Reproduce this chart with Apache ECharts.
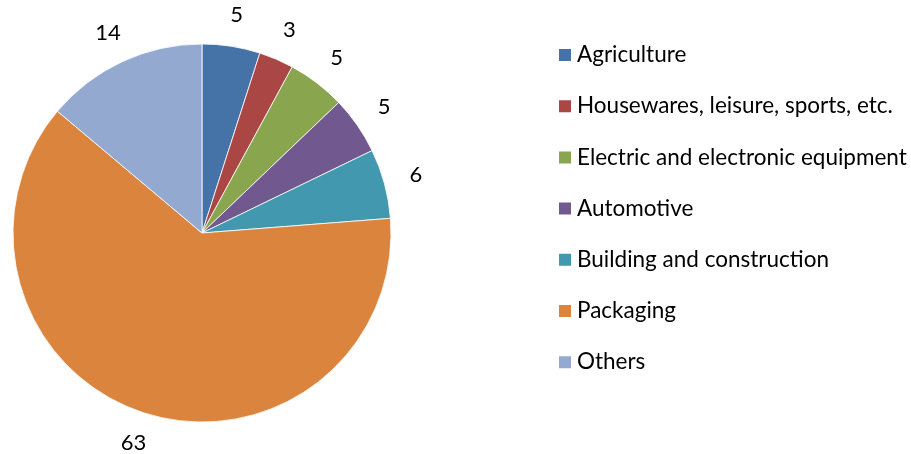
<!DOCTYPE html>
<html>
<head>
<meta charset="utf-8">
<script src="https://cdn.jsdelivr.net/npm/echarts@6/dist/echarts.min.js"></script>
<style>
  html, body { margin: 0; padding: 0; background: #fff; }
  #chart { width: 911px; height: 454px; }
</style>
</head>
<body>
<div id="chart"></div>
<script>
const categories = [
  'Agriculture',
  'Housewares, leisure, sports, etc.',
  'Electric and electronic equipment',
  'Automotive',
  'Building and construction',
  'Packaging',
  'Others'
];
const shares = [5, 3, 5, 5, 6, 63, 14];
const sliceColors = ['#4572A7', '#AA4643', '#89A54E', '#71588F', '#4198AF', '#DB843D', '#93A9CF'];

const FONT = 'Lato, "Open Sans", sans-serif';
const LABEL_SIZE = 22;
const LEGEND_SIZE = 22.5;

// Each label sits centred on its slice's outward direction, so shift it back
// by half the text width from the side-aligned anchor ECharts uses.
const pieData = categories.map(function (name, i) {
  const text = String(shares[i]);
  const halfWidth = text.length * LABEL_SIZE * 0.27;
  return {
    name: name,
    value: shares[i],
    label: { distanceToLabelLine: -halfWidth }
  };
});

const chart = echarts.init(document.getElementById('chart'), null, { renderer: 'canvas' });
chart.setOption({
  animation: false,
  color: sliceColors,
  textStyle: { fontFamily: FONT },
  legend: {
    orient: 'vertical',
    left: 552,
    top: 38,
    icon: 'rect',
    itemWidth: 14,
    itemHeight: 14,
    itemGap: 27.2,
    selectedMode: false,
    textStyle: {
      fontFamily: FONT,
      fontSize: LEGEND_SIZE,
      color: '#000',
      lineHeight: 24
    },
    data: categories
  },
  series: [{
    type: 'pie',
    center: [202, 233],
    radius: 189,
    startAngle: 90,
    clockwise: true,
    avoidLabelOverlap: false,
    itemStyle: { borderColor: '#ffffff', borderWidth: 0.8 },
    label: {
      show: true,
      position: 'outside',
      formatter: '{c}',
      fontFamily: FONT,
      fontSize: LABEL_SIZE,
      color: '#000'
    },
    labelLine: { show: false, length: 32, length2: 0 },
    emphasis: { disabled: true },
    data: pieData
  }]
});
</script>
</body>
</html>
